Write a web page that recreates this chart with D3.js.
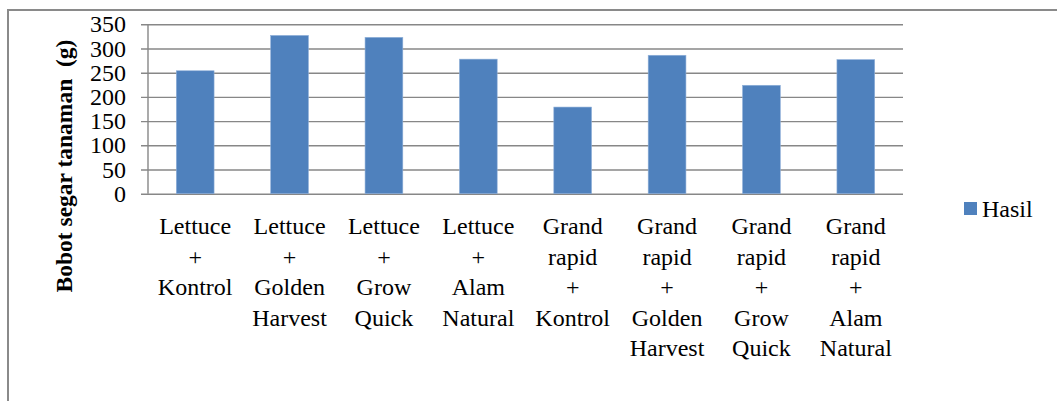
<!DOCTYPE html>
<html><head><meta charset="utf-8">
<script src="https://cdn.jsdelivr.net/npm/d3@7"></script>
<style>body{margin:0;background:#fff;overflow:hidden}svg{display:block}svg text{font-family:"Liberation Serif",Tinos,serif !important}</style>
</head><body>
<svg id="c" width="1057" height="401"></svg>
<script>
const categories = [
  ["Lettuce","+","Kontrol"],
  ["Lettuce","+","Golden","Harvest"],
  ["Lettuce","+","Grow","Quick"],
  ["Lettuce","+","Alam","Natural"],
  ["Grand","rapid","+","Kontrol"],
  ["Grand","rapid","+","Golden","Harvest"],
  ["Grand","rapid","+","Grow","Quick"],
  ["Grand","rapid","+","Alam","Natural"]
];
const values = [254, 327, 323, 278, 179, 286, 224, 277];
const yTicks = [0, 50, 100, 150, 200, 250, 300, 350];
const seriesName = "Hasil";
const yTitle = "Bobot segar tanaman  (g)";

const svg = d3.select("#c");
const grid = "#878787";
const FF = "Liberation Serif";

// outer frame
svg.append("path").attr("d","M8,1000 V10 H1100")
  .attr("fill","none").attr("stroke","#8a8a8a").attr("stroke-width",2);

const pL = 148, pR = 903, pT = 24.3, pB = 193.7;
const x = d3.scaleBand().domain(d3.range(categories.length)).range([pL,pR])
  .paddingInner(0.6).paddingOuter(0.3);
const y = d3.scaleLinear().domain([0,350]).range([pB, pT]);

// gridlines + ticks (via d3 axis)
const yAxis = d3.axisLeft(y).tickValues(yTicks).tickSize(-(pR-pL)).tickPadding(0).tickFormat("");
const ga = svg.append("g").attr("transform",`translate(${pL},0)`).call(yAxis);
ga.attr("font-family", FF);
ga.select(".domain").remove();
ga.selectAll(".tick line").attr("stroke",grid).attr("stroke-width",1.4).attr("x1",-7);
// vertical axis
svg.append("line").attr("x1",pL).attr("x2",pL).attr("y1",pT).attr("y2",pB)
  .attr("stroke",grid).attr("stroke-width",1.4);

// tick labels
svg.append("g").selectAll("text").data(yTicks).join("text")
  .attr("x",126).attr("y",d=>y(d)+8)
  .attr("text-anchor","end").attr("font-family",FF).style("font-size","24px").attr("fill","#000")
  .text(d=>d);

// bars
svg.append("g").selectAll("rect").data(values).join("rect")
  .attr("x",(d,i)=>x(i)).attr("width",x.bandwidth())
  .attr("y",d=>y(d)).attr("height",d=>y(0)-y(d))
  .attr("fill","#4f81bd").attr("stroke","#8fb0d9").attr("stroke-width",0.6);

// category labels
const cl = svg.append("g").attr("fill","#000");
categories.forEach((lines,i)=>{
  const t = cl.append("text").attr("text-anchor","middle").attr("font-family",FF).style("font-size","24px");
  lines.forEach((ln,j)=>{
    t.append("tspan").attr("x",x(i)+x.bandwidth()/2).attr("y",234+j*30.6).text(ln);
  });
});

// y title
svg.append("text").attr("transform","translate(72,166) rotate(-90)")
  .attr("text-anchor","middle").attr("font-family",FF).style("font-weight","bold")
  .style("font-size","23.5px").attr("fill","#000").style("white-space","pre").text(yTitle);

// legend
svg.append("rect").attr("x",964).attr("y",202).attr("width",13).attr("height",13).attr("fill","#4f81bd");
svg.append("text").attr("x",982).attr("y",216.5).attr("font-family",FF).style("font-size","24px")
  .attr("fill","#000").text(seriesName);
</script>
</body></html>
